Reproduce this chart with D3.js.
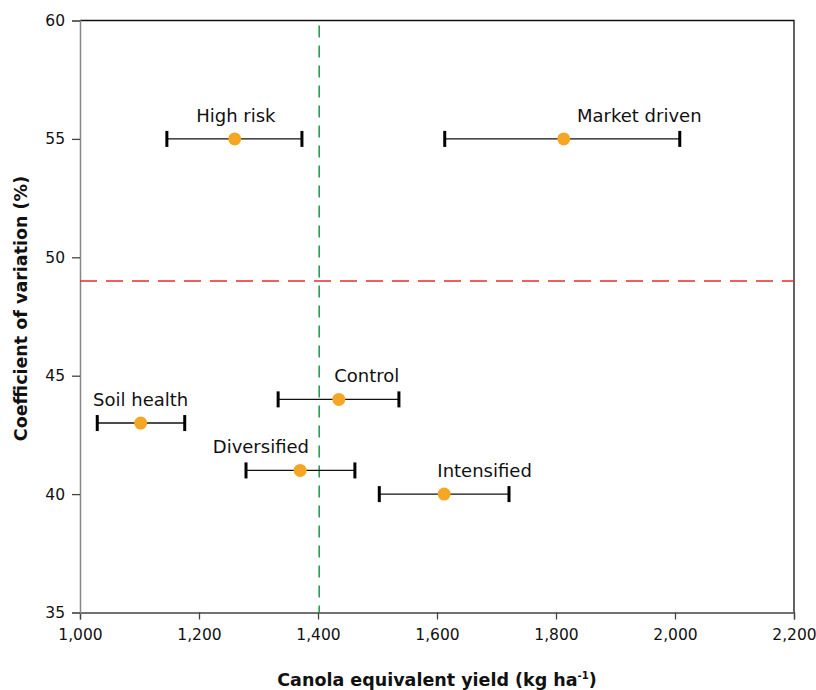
<!DOCTYPE html>
<meta charset="utf-8">
<style>
body { margin: 0; background: #fff; }
svg { font-family: "DejaVu Sans", sans-serif; }
.tick text { font-size: 15.5px; fill: #111; }
.title { font-size: 17.5px; font-weight: bold; fill: #111; }
.name { font-size: 18px; fill: #111; }
</style>
<html>
  <head>
    <script src="https://cdn.jsdelivr.net/npm/d3@7"></script>
  </head>
  <body>
    <script>
var systems = ["High risk", "Market driven", "Control", "Soil health", "Diversified", "Intensified"];
var yieldMean = [1260, 1813, 1435, 1102, 1370, 1612];
var yieldLow = [1146, 1613, 1333, 1029, 1279, 1503];
var yieldHigh = [1373, 2008, 1536, 1176, 1462, 1721];
var cv = [55, 55, 44, 43, 41, 40];
// x value where each label is centred
var labelX = [1262, 1940, 1482, 1102, 1304, 1680];

var xTicks = [1000, 1200, 1400, 1600, 1800, 2000, 2200];
var yTicks = [35, 40, 45, 50, 55, 60];
var meanYield = 1402, meanCv = 49;

var width = 816, height = 690;
var margin = {top: 20.5, right: 22, bottom: 77.5, left: 80};

var svg = d3.select("body").append("svg")
    .attr("width", width).attr("height", height);

var x = d3.scaleLinear().domain([1000, 2200]).range([margin.left, width - margin.right]);
var y = d3.scaleLinear().domain([35, 60]).range([height - margin.bottom, margin.top]);

// frame top + right
svg.append("path")
    .attr("d", "M" + x(1000) + "," + y(60) + "H" + x(2200) + "V" + y(35))
    .attr("fill", "none").attr("stroke", "#111").attr("stroke-width", 1.3);

var xAxis = svg.append("g")
    .attr("transform", "translate(0," + y(35) + ")")
    .call(d3.axisBottom(x).tickValues(xTicks).tickSize(7).tickPadding(9).tickFormat(d3.format(",")));
xAxis.select(".domain").attr("stroke", "#444").attr("stroke-width", 1.3);
xAxis.selectAll(".tick line").attr("stroke", "#444").attr("stroke-width", 1.3);

var yAxis = svg.append("g")
    .attr("transform", "translate(" + x(1000) + ",0)")
    .call(d3.axisLeft(y).tickValues(yTicks).tickSize(8).tickPadding(7));
yAxis.select(".domain").attr("stroke", "#888").attr("stroke-width", 1.5);
yAxis.selectAll(".tick line").attr("stroke", "#444").attr("stroke-width", 1.3);
svg.selectAll(".tick text").attr("font-family", "DejaVu Sans, sans-serif");

// reference lines
svg.append("line")
    .attr("x1", x(meanYield)).attr("x2", x(meanYield))
    .attr("y1", y(60) + 5).attr("y2", y(35))
    .attr("stroke", "#2a9d55").attr("stroke-width", 1.6).attr("stroke-dasharray", "12,8");
svg.append("line")
    .attr("x1", x(1000)).attr("x2", x(2200))
    .attr("y1", y(meanCv)).attr("y2", y(meanCv))
    .attr("stroke", "#ec2a2a").attr("stroke-width", 1.6).attr("stroke-dasharray", "17,9");

var idx = d3.range(systems.length);
var g = svg.append("g");

g.selectAll(".bar").data(idx).join("line")
    .attr("x1", function(i) { return x(yieldLow[i]); })
    .attr("x2", function(i) { return x(yieldHigh[i]); })
    .attr("y1", function(i) { return y(cv[i]); })
    .attr("y2", function(i) { return y(cv[i]); })
    .attr("stroke", "#111").attr("stroke-width", 1.4);

idx.forEach(function(i) {
  [yieldLow[i], yieldHigh[i]].forEach(function(v) {
    g.append("line")
        .attr("x1", x(v)).attr("x2", x(v))
        .attr("y1", y(cv[i]) - 8).attr("y2", y(cv[i]) + 8)
        .attr("stroke", "#000").attr("stroke-width", 3);
  });
});

g.selectAll("circle").data(idx).join("circle")
    .attr("cx", function(i) { return x(yieldMean[i]); })
    .attr("cy", function(i) { return y(cv[i]); })
    .attr("r", 6.5)
    .attr("fill", "#f5a623");

g.selectAll(".name").data(idx).join("text")
    .attr("class", "name")
    .attr("x", function(i) { return x(labelX[i]); })
    .attr("y", function(i) { return y(cv[i]) - 17; })
    .attr("text-anchor", "middle")
    .text(function(i) { return systems[i]; });

// axis titles
var xt = svg.append("text").attr("class", "title")
    .attr("x", 437).attr("y", 686).attr("text-anchor", "middle");
xt.append("tspan").text("Canola equivalent yield (kg ha");
xt.append("tspan").attr("dy", -7).attr("font-size", 10).text("-1");
xt.append("tspan").attr("dy", 7).text(")");

svg.append("text").attr("class", "title")
    .attr("transform", "translate(27," + ((y(35) + y(60)) / 2 - 8) + ") rotate(-90)")
    .attr("text-anchor", "middle")
    .text("Coefficient of variation (%)");
    </script>
  </body>
</html>
